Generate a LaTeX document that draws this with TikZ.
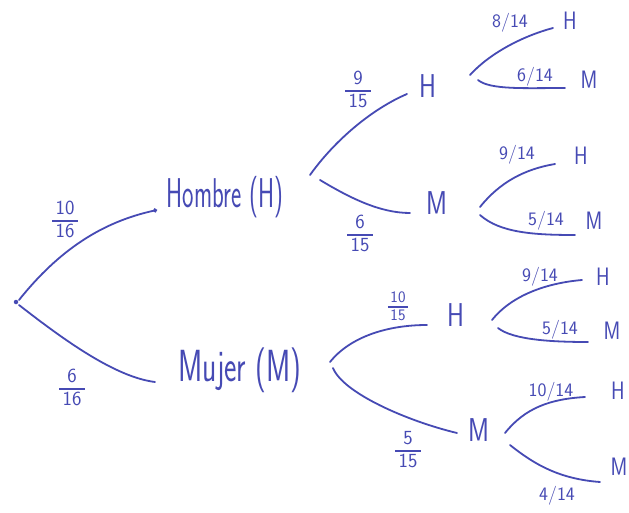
\documentclass[tikz,border=0pt]{standalone}
\usepackage{graphicx}
\usetikzlibrary{arrows.meta}
\definecolor{pen}{RGB}{70,74,180}
\newcommand\nrw[3]{\scalebox{#1}[#2]{#3}}
\newcommand\sfr[2]{\begin{tabular}{@{\,}c@{\,}}#1\\[-1pt]\noalign{\hrule height 1.4pt}\rule{0pt}{0.8em}#2\end{tabular}}
\begin{document}
\begin{tikzpicture}[x=1pt,y=-1pt,line cap=round,
  every node/.style={text=pen, inner sep=0pt},
  br/.style={draw=pen, line width=1.8pt},
  dotn/.style={circle, fill=pen, minimum size=4.5pt},
  lblA/.style={font=\fontsize{32}{34}\selectfont\sffamily},
  lblB/.style={font=\fontsize{36}{38}\selectfont\sffamily},
  lvtwo/.style={font=\fontsize{30}{32}\selectfont\sffamily},
  lvthree/.style={font=\fontsize{24}{26}\selectfont\sffamily},
  frc/.style={font=\fontsize{20}{21}\selectfont\sffamily},
  frcs/.style={font=\fontsize{16}{17}\selectfont\sffamily},
  sl/.style={font=\fontsize{19}{20}\selectfont\sffamily}]
\fill[white] (0,0) rectangle (629,513);
\useasboundingbox (0,0) rectangle (629,513);

% level 1
\node[dotn] (root) at (16,302) {};
\node[lblA] (hom) at (225,197) {\nrw{0.76}{1.3}{Hombre (H)}};
\node[lblB] (muj) at (240,370) {\nrw{0.82}{1.25}{Mujer (M)}};

% level 2
\node[lvtwo] (h2) at (428,86) {\nrw{0.85}{1.1}{H}};
\node[lvtwo] (m2) at (437,203) {\nrw{0.85}{1.1}{M}};
\node[lvtwo] (h2b) at (456,315) {\nrw{0.85}{1.1}{H}};
\node[lvtwo] (m2b) at (479,430) {\nrw{0.85}{1.1}{M}};

% level 3
\node[lvthree] (h3a) at (570,21) {\nrw{0.85}{1.05}{H}};
\node[lvthree] (m3a) at (589,80) {\nrw{0.85}{1.05}{M}};
\node[lvthree] (h3b) at (581,156) {\nrw{0.85}{1.05}{H}};
\node[lvthree] (m3b) at (594,221) {\nrw{0.85}{1.05}{M}};
\node[lvthree] (h3c) at (603,277) {\nrw{0.85}{1.05}{H}};
\node[lvthree] (m3c) at (612,331) {\nrw{0.85}{1.05}{M}};
\node[lvthree] (h3d) at (618,391) {\nrw{0.85}{1.05}{H}};
\node[lvthree] (m3d) at (619,467) {\nrw{0.85}{1.05}{M}};

% stacked fractions
\node[frc] (f1) at (65,222) {\sfr{10}{16}};
\node[frc] (f2) at (72,390) {\sfr{6}{16}};
\node[frc] (f3) at (358,92) {\sfr{9}{15}};
\node[frc] (f4) at (360,236) {\sfr{6}{15}};
\node[frcs] (f5) at (398,308) {\sfr{10}{15}};
\node[frc] (f6) at (408,452) {\sfr{5}{15}};

% slashed fractions
\node[sl] (s1) at (510,23) {8/14};
\node[sl] (s2) at (535,77) {6/14};
\node[sl] (s3) at (517,155) {9/14};
\node[sl] (s4) at (546,221) {5/14};
\node[sl] (s5) at (540,277) {9/14};
\node[sl] (s6) at (560,330) {5/14};
\node[sl] (s7) at (551,392) {10/14};
\node[sl] (s8) at (557,496) {4/14};

% connectors level 1
\draw[br,-{Circle[length=4pt]}] ([shift={(3,-2)}]root.center) .. controls +(40,-50) and +(-55,12) .. ([shift={(-68,13)}]hom.center);
\draw[br] ([shift={(3,3)}]root.center) .. controls +(45,35) and +(-40,-5) .. ([shift={(-85,12)}]muj.center);

% from Hombre
\draw[br] ([shift={(85,-22)}]hom.center) .. controls +(25,-35) and +(-35,15) .. ([shift={(-21,8)}]h2.center);
\draw[br] ([shift={(95,-17)}]hom.center) .. controls +(30,18) and +(-30,0) .. ([shift={(-27,10)}]m2.center);

% from H (upper)
\draw[br] ([shift={(42,-11)}]h2.center) .. controls +(20,-22) and +(-30,8) .. ([shift={(-17,7)}]h3a.center);
\draw[br] ([shift={(50,-6)}]h2.center) .. controls +(12,10) and +(-40,0) .. ([shift={(-24,8)}]m3a.center);

% from M (upper)
\draw[br] ([shift={(43,4)}]m2.center) .. controls +(20,-25) and +(-30,5) .. ([shift={(-26,8)}]h3b.center);
\draw[br] ([shift={(43,12)}]m2.center) .. controls +(20,18) and +(-40,0) .. ([shift={(-19,14)}]m3b.center);

% from Mujer
\draw[br] ([shift={(90,-8)}]muj.center) .. controls +(20,-25) and +(-40,0) .. ([shift={(-29,10)}]h2b.center);
\draw[br] ([shift={(93,-2)}]muj.center) .. controls +(10,25) and +(-50,-12) .. ([shift={(-22,3)}]m2b.center);

% from H (lower)
\draw[br] ([shift={(36,5)}]h2b.center) .. controls +(20,-25) and +(-35,3) .. ([shift={(-21,3)}]h3c.center);
\draw[br] ([shift={(42,13)}]h2b.center) .. controls +(15,12) and +(-35,0) .. ([shift={(-24,11)}]m3c.center);

% from M (lower)
\draw[br] ([shift={(26,3)}]m2b.center) .. controls +(20,-25) and +(-35,2) .. ([shift={(-33,6)}]h3d.center);
\draw[br] ([shift={(31,15)}]m2b.center) .. controls +(25,20) and +(-40,-3) .. ([shift={(-19,15)}]m3d.center);
\end{tikzpicture}
\end{document}
